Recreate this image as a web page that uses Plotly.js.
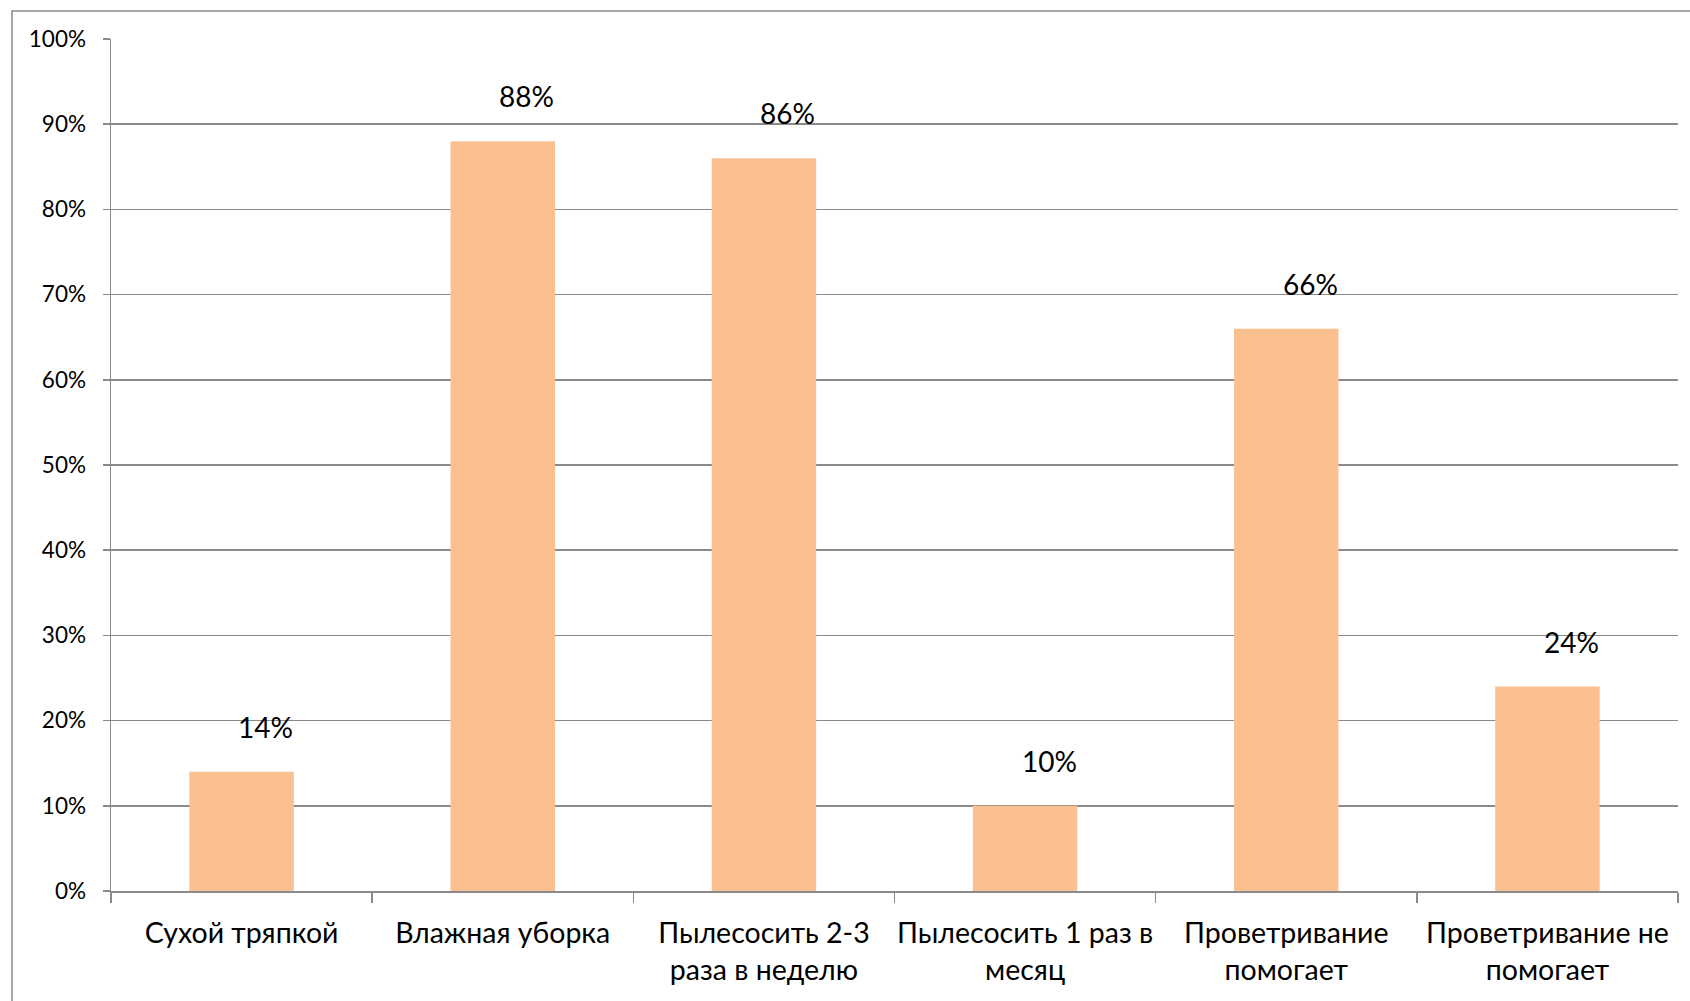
<!DOCTYPE html>
<html>
<head>
<meta charset="utf-8">
<script src="https://cdn.plot.ly/plotly-3.0.1.min.js"></script>
<style>
  html, body { margin: 0; padding: 0; background: #ffffff; }
  #chart { width: 1690px; height: 1001px; }
</style>
</head>
<body>
<div id="chart"></div>
<script>
// Способы уборки и проветривания: доля ответов, %
const categories = [
  "Сухой тряпкой",
  "Влажная уборка",
  "Пылесосить 2-3<br>раза в неделю",
  "Пылесосить 1 раз в<br>месяц",
  "Проветривание<br>помогает",
  "Проветривание не<br>помогает"
];
const values = [14, 88, 86, 10, 66, 24];
const yTickValues = [0, 10, 20, 30, 40, 50, 60, 70, 80, 90, 100];
const yTickLabels = ["0%", "10%", "20%", "30%", "40%", "50%", "60%", "70%", "80%", "90%", "100%"];

const FONT = "Lato, Carlito, 'Open Sans', sans-serif";
const GRID = "#8a8a8a";

const trace = {
  type: "bar",
  x: categories,
  y: values,
  marker: { color: "#FAC090", line: { width: 0 } },
  hoverinfo: "x+y"
};

// value labels above each bar, slightly to the right of the bar centre
const labels = categories.map((c, i) => ({
  x: c,
  y: values[i],
  xref: "x",
  yref: "y",
  text: values[i] + "%",
  showarrow: false,
  xanchor: "center",
  yanchor: "middle",
  xshift: 24,
  yshift: 45,
  font: { family: FONT, size: 28, color: "#000000" }
}));

const layout = {
  width: 1690,
  height: 1001,
  margin: { l: 111, r: 12, t: 39, b: 110 },
  paper_bgcolor: "#ffffff",
  plot_bgcolor: "#ffffff",
  showlegend: false,
  bargap: 0.6,
  font: { family: FONT, color: "#000000" },
  xaxis: {
    type: "category",
    showline: true,
    linecolor: GRID,
    linewidth: 1.5,
    showgrid: false,
    ticks: "outside",
    tickson: "boundaries",
    ticklen: 10,
    tickwidth: 1.5,
    tickcolor: GRID,
    tickangle: 0,
    tickfont: { family: FONT, size: 28.5, color: "#000000" },
    ticklabelstandoff: 16,
    fixedrange: true
  },
  yaxis: {
    range: [0, 100],
    tickvals: yTickValues,
    ticktext: yTickLabels,
    showline: true,
    linecolor: GRID,
    linewidth: 1.5,
    showgrid: true,
    gridcolor: GRID,
    gridwidth: 1.5,
    zeroline: false,
    ticks: "outside",
    ticklen: 7,
    tickwidth: 1.5,
    tickcolor: GRID,
    tickfont: { family: FONT, size: 22.5, color: "#000000" },
    ticklabelstandoff: 12,
    fixedrange: true
  },
  annotations: labels,
  shapes: [{
    type: "rect",
    xref: "paper",
    yref: "paper",
    x0: -0.0632,
    x1: 1.2,
    y0: -0.3,
    y1: 1.0329,
    line: { color: GRID, width: 1.5 },
    fillcolor: "rgba(0,0,0,0)",
    layer: "below"
  }]
};

Plotly.newPlot("chart", [trace], layout, { displayModeBar: false, staticPlot: true });
</script>
</body>
</html>
